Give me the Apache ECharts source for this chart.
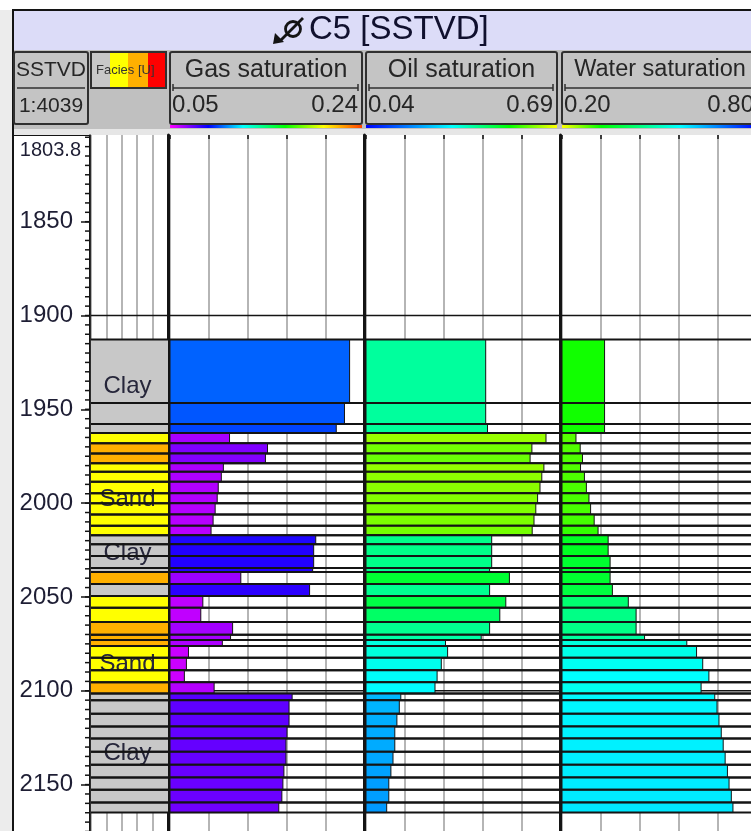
<!DOCTYPE html>
<html>
<head>
<meta charset="utf-8">
<title>C5 [SSTVD]</title>
<script src="https://cdn.jsdelivr.net/npm/echarts@6.0.0/dist/echarts.min.js"></script>
<style>
  html, body { margin: 0; padding: 0; background: #ffffff; }
  #chart { width: 751px; height: 831px; }
</style>
</head>
<body>
<div id="chart"></div>
<script>
// ---- Well C5: facies and fluid saturations against SSTVD (m) ----

// Layer boundaries: layer i runs from layerBounds[i] down to layerBounds[i + 1]
const layerBounds = [1912.8, 1946.6, 1957.8, 1962.6, 1968.1, 1973.5, 1978.8, 1983.3, 1988.6, 1994.7,
  2000.0, 2006.0, 2012.0, 2017.1, 2021.9, 2028.2, 2034.6, 2036.7, 2043.1, 2049.5,
  2055.7, 2063.4, 2070.1, 2073.0, 2076.2, 2082.4, 2089.0, 2095.5, 2101.5, 2105.1,
  2112.3, 2119.0, 2125.4, 2132.5, 2139.4, 2146.2, 2152.8, 2159.6, 2164.9];

// Facies code per layer (0 clay, 1 sand, 2 and 3 other classes)
const faciesCodes = [0, 0, 0, 1, 2, 2, 1, 1, 1, 1, 1, 1, 1, 0, 0, 0, 0, 2, 0, 1,
  1, 2, 2, 2, 1, 1, 1, 2, 0, 0, 0, 0, 0, 0, 0, 0, 0, 0];
const faciesNames = ['Clay', 'Sand'];
const faciesColors = ['#c8c8c8', '#ffff00', '#ffb000', '#ff0000'];

// Saturations per layer
const gasSat = [0.225, 0.220, 0.212, 0.108, 0.145, 0.143, 0.102, 0.100, 0.097, 0.096,
  0.094, 0.092, 0.090, 0.192, 0.190, 0.190, 0.189, 0.119, 0.186, 0.082,
  0.080, 0.111, 0.109, 0.101, 0.068, 0.066, 0.064, 0.093, 0.169, 0.166,
  0.166, 0.164, 0.163, 0.163, 0.161, 0.160, 0.159, 0.156];
const oilSat = [0.439, 0.439, 0.445, 0.640, 0.593, 0.587, 0.633, 0.626, 0.620, 0.612,
  0.606, 0.600, 0.594, 0.459, 0.459, 0.459, 0.452, 0.518, 0.452, 0.506,
  0.486, 0.452, 0.424, 0.305, 0.312, 0.291, 0.277, 0.270, 0.156, 0.151,
  0.143, 0.136, 0.136, 0.130, 0.123, 0.116, 0.116, 0.109];
const waterSat = [0.331, 0.331, 0.331, 0.243, 0.256, 0.263, 0.257, 0.269, 0.275, 0.283,
  0.288, 0.299, 0.311, 0.342, 0.342, 0.348, 0.348, 0.348, 0.355, 0.404,
  0.428, 0.428, 0.454, 0.584, 0.614, 0.633, 0.652, 0.628, 0.670, 0.677,
  0.683, 0.690, 0.696, 0.702, 0.709, 0.714, 0.721, 0.726];

// Depth axis
const depthRange = [1803.8, 2175.8];
const depthLabels = [1803.8, 1850, 1900, 1950, 2000, 2050, 2100, 2150];
const depthMajorTicks = [1850, 1900, 1950, 2000, 2050, 2100, 2150];
const depthMinorTicks = [];
for (let d = 1805; d <= 2175; d += 5) depthMinorTicks.push(d);
const depthGridLines = [1900, 2000, 2100];

// Track scales and header labels
const gasRange = [0.05, 0.24];
const oilRange = [0.04, 0.69];
const waterRange = [0.20, 0.80];
const gasScaleLabels = ['0.05', '0.24'];
const oilScaleLabels = ['0.04', '0.69'];
const waterScaleLabels = ['0.20', '0.80'];

// Colour ramps (value -> fill) for each saturation track
const gasStops = [[0.064, '#cc00ff'], [0.09, '#b800ff'], [0.11, '#a400ff'], [0.145, '#8000ff'],
  [0.165, '#6200ff'], [0.19, '#2200ff'], [0.212, '#0044ff'], [0.225, '#0062ff']];
const oilStops = [[0.109, '#0099ff'], [0.156, '#00b8ff'], [0.27, '#00fcff'], [0.31, '#00ffdd'],
  [0.424, '#00ffa8'], [0.445, '#00ff99'], [0.46, '#00ff88'], [0.49, '#00ff60'],
  [0.52, '#00ff30'], [0.595, '#77ff00'], [0.64, '#99ff00']];
const waterStops = [[0.243, '#55ff00'], [0.30, '#44ff00'], [0.331, '#11ff00'], [0.342, '#00ff22'],
  [0.355, '#00ff40'], [0.404, '#00ff70'], [0.43, '#00ff88'], [0.454, '#00ffa0'],
  [0.584, '#00ffdd'], [0.63, '#00fff0'], [0.652, '#00ffff'], [0.726, '#00e8ff']];

function ramp(stops) {
  return function (v) {
    if (v <= stops[0][0]) return stops[0][1];
    for (let i = 1; i < stops.length; i++) {
      if (v <= stops[i][0]) {
        const t = (v - stops[i - 1][0]) / (stops[i][0] - stops[i - 1][0]);
        return echarts.color.lerp(t, [stops[i - 1][1], stops[i][1]]);
      }
    }
    return stops[stops.length - 1][1];
  };
}

// Runs of one facies thick enough to carry a name
const faciesRuns = [];
(function () {
  let start = 0;
  for (let i = 1; i <= faciesCodes.length; i++) {
    if (i === faciesCodes.length || faciesCodes[i] !== faciesCodes[start]) {
      const top = layerBounds[start], base = layerBounds[i];
      const name = faciesNames[faciesCodes[start]];
      if (name && base - top >= 15) faciesRuns.push({ depth: (top + base) / 2, name: name });
      start = i;
    }
  }
})();

const INK = '#141414';
const FONT = 'Liberation Sans';

const chart = echarts.init(document.getElementById('chart'), null, { renderer: 'canvas' });

// ---- grids: depth, facies, gas, oil, water ----
const plotTop = 135, plotHeight = 698;
const grids = [
  { left: 13, top: plotTop, width: 77, height: plotHeight, show: true, backgroundColor: '#ffffff', borderColor: INK, borderWidth: 2 },
  { left: 91, top: plotTop, width: 77, height: plotHeight },
  { left: 170, top: plotTop, width: 195, height: plotHeight },
  { left: 366, top: plotTop, width: 195, height: plotHeight },
  { left: 562, top: plotTop, width: 195, height: plotHeight }
].map(g => Object.assign({ containLabel: false, outerBoundsMode: 'none' }, g));

function depthAxis(gridIndex, extra) {
  return Object.assign({
    gridIndex: gridIndex, type: 'value', inverse: true,
    min: depthRange[0], max: depthRange[1],
    axisLine: { show: false }, axisTick: { show: false }, axisLabel: { show: false },
    splitLine: { show: false }
  }, extra || {});
}
function hiddenX(gridIndex, range) {
  return { gridIndex: gridIndex, type: 'value', min: range[0], max: range[1], show: false, splitLine: { show: false } };
}
function gridX(gridIndex, topTicks) {
  return {
    gridIndex: gridIndex, type: 'value', min: 0, max: 5, interval: 1, position: 'top',
    axisLine: { show: false },
    axisTick: { show: topTicks, inside: true, length: 4, lineStyle: { color: INK, width: 1.5 } },
    axisLabel: { show: false },
    splitLine: { show: true, lineStyle: { color: '#9c9c9c', width: 1.5 } }
  };
}

const xAxes = [
  hiddenX(0, [0, 1]),        // 0 depth track
  gridX(1, false),           // 1 facies
  hiddenX(2, gasRange),      // 2 gas scale
  gridX(2, true),            // 3 gas grid
  hiddenX(3, oilRange),      // 4 oil scale
  gridX(3, true),            // 5 oil grid
  hiddenX(4, waterRange),    // 6 water scale
  gridX(4, true)             // 7 water grid
];

const trackBorder = { show: true, onZero: false, lineStyle: { color: INK, width: 3 } };
const yAxes = [
  depthAxis(0, {
    position: 'right',
    axisLine: { show: true, onZero: false, lineStyle: { color: INK, width: 1.5 } },
    axisTick: { show: true, inside: true, length: 9, customValues: depthMajorTicks, lineStyle: { color: INK, width: 1.5 } },
    axisLabel: {
      show: true, inside: true, margin: 9, customValues: depthLabels,
      color: '#1e1e34', fontFamily: FONT, fontSize: 24,
      formatter: function (v) {
        return Math.abs(v - depthRange[0]) < 1e-6 ? '{top|' + v.toFixed(1) + '}' : '{n|' + Math.round(v) + '}';
      },
      rich: {
        n: { fontFamily: FONT, fontSize: 24, color: '#1e1e34', padding: [0, 8, 0, 0] },
        top: { fontFamily: FONT, fontSize: 20, color: '#1e1e34', padding: [31, 0, 0, 0] }
      }
    }
  }),
  depthAxis(1, { position: 'left' }),
  depthAxis(2, { position: 'left', offset: 1.5, axisLine: trackBorder }),
  depthAxis(3, { position: 'left', offset: 1.5, axisLine: trackBorder }),
  depthAxis(4, { position: 'left', offset: 1.5, axisLine: trackBorder })
];

// ---- series ----
function hLine(cs, y, w) {
  return { type: 'line', shape: { x1: cs.x, y1: y, x2: cs.x + cs.width, y2: y }, style: { stroke: INK, lineWidth: w } };
}

function gridLineSeries(xIdx, yIdx, xMin) {
  return {
    type: 'custom', xAxisIndex: xIdx, yAxisIndex: yIdx, z: 1, silent: true,
    data: depthGridLines.map(d => [xMin, d]), encode: { x: 0, y: 1 },
    renderItem: function (params, api) {
      const p = api.coord([api.value(0), api.value(1)]);
      return hLine(params.coordSys, p[1], 1.5);
    }
  };
}

function satSeries(name, values, range, stops, xIdx, yIdx) {
  const colorOf = ramp(stops);
  return {
    type: 'custom', name: name, xAxisIndex: xIdx, yAxisIndex: yIdx, z: 3, clip: false,
    data: values.map((v, i) => [v, layerBounds[i], layerBounds[i + 1]]),
    encode: { x: 0, y: [1, 2] },
    renderItem: function (params, api) {
      const v = api.value(0), top = api.value(1), base = api.value(2);
      const a = api.coord([range[0], top]);
      const b = api.coord([v, base]);
      const cs = params.coordSys;
      return {
        type: 'group', children: [
          { type: 'rect', shape: { x: a[0], y: a[1], width: b[0] - a[0], height: b[1] - a[1] },
            style: { fill: colorOf(v), stroke: INK, lineWidth: 1 } },
          hLine(cs, a[1], 2),
          hLine(cs, b[1], 2)
        ]
      };
    }
  };
}

const series = [
  // 5 m depth ticks along the right edge of the depth track
  {
    type: 'custom', name: 'Depth ticks', xAxisIndex: 0, yAxisIndex: 0, z: 4, silent: true,
    data: depthMinorTicks.map(d => [1, d]), encode: { x: 0, y: 1 },
    renderItem: function (params, api) {
      const p = api.coord([api.value(0), api.value(1)]);
      return { type: 'line', shape: { x1: p[0] - 5, y1: p[1], x2: p[0], y2: p[1] }, style: { stroke: INK, lineWidth: 1.5 } };
    }
  },
  // facies fill
  {
    type: 'custom', name: 'Facies', xAxisIndex: 1, yAxisIndex: 1, z: 3,
    data: faciesCodes.map((c, i) => [c, layerBounds[i], layerBounds[i + 1]]),
    encode: { x: 0, y: [1, 2] },
    renderItem: function (params, api) {
      const cs = params.coordSys;
      const y0 = api.coord([0, api.value(1)])[1];
      const y1 = api.coord([0, api.value(2)])[1];
      return { type: 'rect', shape: { x: cs.x, y: y0, width: cs.width, height: y1 - y0 },
        style: { fill: faciesColors[api.value(0)] } };
    }
  },
  // facies names
  {
    type: 'custom', name: 'Facies names', xAxisIndex: 1, yAxisIndex: 1, z: 4, silent: true,
    data: faciesRuns.map(r => [2.5, r.depth]), encode: { x: 0, y: 1 },
    renderItem: function (params, api) {
      const p = api.coord([api.value(0), api.value(1)]);
      return { type: 'text', x: p[0] - 2, y: p[1],
        style: { text: faciesRuns[params.dataIndex].name, fill: '#26263a', fontFamily: FONT, fontSize: 24,
          align: 'center', verticalAlign: 'middle', textAlign: 'center', textVerticalAlign: 'middle' } };
    }
  },
  // facies layer boundaries
  {
    type: 'custom', name: 'Facies bounds', xAxisIndex: 1, yAxisIndex: 1, z: 5, silent: true,
    data: faciesCodes.map((c, i) => [c, layerBounds[i], layerBounds[i + 1]]),
    encode: { x: 0, y: [1, 2] },
    renderItem: function (params, api) {
      const cs = params.coordSys;
      const y0 = api.coord([0, api.value(1)])[1];
      const y1 = api.coord([0, api.value(2)])[1];
      return { type: 'group', children: [hLine(cs, y0, 2), hLine(cs, y1, 2)] };
    }
  },
  gridLineSeries(1, 1, 0),
  gridLineSeries(2, 2, gasRange[0]),
  gridLineSeries(4, 3, oilRange[0]),
  gridLineSeries(6, 4, waterRange[0]),
  satSeries('Gas saturation', gasSat, gasRange, gasStops, 2, 2),
  satSeries('Oil saturation', oilSat, oilRange, oilStops, 4, 3),
  satSeries('Water saturation', waterSat, waterRange, waterStops, 6, 4)
];

// ---- header panel ----
function txt(x, y, text, size, align, color) {
  return { type: 'text', x: x, y: y, silent: true,
    style: { text: text, fill: color || '#262626', font: size + 'px "' + FONT + '"',
      textAlign: align || 'center', textVerticalAlign: 'middle', align: align || 'center', verticalAlign: 'middle' } };
}
function box(x, y, w, h) {
  return { type: 'rect', silent: true, shape: { x: x, y: y, width: w, height: h, r: 2 },
    style: { fill: '#c4c4c4', stroke: '#303030', lineWidth: 2 } };
}
function line(x1, y1, x2, y2, w, c) {
  return { type: 'line', silent: true, shape: { x1: x1, y1: y1, x2: x2, y2: y2 }, style: { stroke: c || '#303030', lineWidth: w } };
}
function grad(stops) {
  return { type: 'linear', x: 0, y: 0, x2: 1, y2: 0, colorStops: stops.map(s => ({ offset: s[0], color: s[1] })) };
}
function satHeader(x, w, title, titleSize, labels, barStops) {
  return [
    box(x, 52, w, 72),
    txt(x + w / 2, 70, title, titleSize),
    line(x + 3, 88, x + w - 4, 88, 1.5),
    line(x + 3, 84, x + 3, 91, 1.5),
    line(x + w - 4, 84, x + w - 4, 91, 1.5),
    txt(x + 2, 105, labels[0], 24, 'left'),
    txt(x + w - 4, 105, labels[1], 24, 'right'),
    { type: 'rect', silent: true, shape: { x: x, y: 125, width: w, height: 3 }, style: { fill: grad(barStops) } }
  ];
}

const graphic = [
  { type: 'rect', silent: true, shape: { x: 0, y: 10, width: 12, height: 821 }, style: { fill: '#ececec' } },
  { type: 'rect', silent: true, shape: { x: 13, y: 10, width: 745, height: 40 }, style: { fill: '#dcdcf8' } },
  { type: 'rect', silent: true, shape: { x: 13, y: 50, width: 745, height: 79 }, style: { fill: '#c0c0c0' } },
  { type: 'rect', silent: true, shape: { x: 13, y: 129, width: 745, height: 6 }, style: { fill: '#e6e6e6' } },
  { type: 'rect', silent: true, shape: { x: 12, y: 9, width: 745, height: 2 }, style: { fill: INK } },
  { type: 'rect', silent: true, shape: { x: 12, y: 9, width: 2, height: 822 }, style: { fill: INK } },
  // well symbol
  { type: 'circle', silent: true, shape: { cx: 293, cy: 29, r: 7.5 }, style: { fill: 'none', stroke: INK, lineWidth: 2.8 } },
  line(303, 18, 281, 40, 2.8, INK),
  { type: 'polygon', silent: true, shape: { points: [[273, 44], [275, 33], [284, 42]] }, style: { fill: INK } },
  txt(309, 30, 'C5 [SSTVD]', 33, 'left', '#10102e'),
  // depth header
  box(14, 52, 74, 72),
  line(17, 88, 85, 88, 1.5),
  txt(51, 70, 'SSTVD', 21),
  txt(51, 106, '1:4039', 21),
  // facies header with colour key
  { type: 'rect', silent: true, shape: { x: 92, y: 53, width: 18, height: 34 }, style: { fill: faciesColors[0] } },
  { type: 'rect', silent: true, shape: { x: 110, y: 53, width: 18, height: 34 }, style: { fill: faciesColors[1] } },
  { type: 'rect', silent: true, shape: { x: 128, y: 53, width: 20, height: 34 }, style: { fill: faciesColors[2] } },
  { type: 'rect', silent: true, shape: { x: 148, y: 53, width: 17, height: 34 }, style: { fill: faciesColors[3] } },
  { type: 'rect', silent: true, shape: { x: 91, y: 52, width: 75, height: 36 }, style: { fill: 'none', stroke: '#303030', lineWidth: 2 } },
  txt(96, 70, 'Facies [U]', 13, 'left', '#333333')
].concat(
  satHeader(170, 192, 'Gas saturation', 25, gasScaleLabels,
    [[0, '#ff00ff'], [0.2, '#0000ff'], [0.38, '#00ffff'], [0.6, '#00ff00'], [0.8, '#ffff00'], [1, '#ff4000']]),
  satHeader(366, 191, 'Oil saturation', 25, oilScaleLabels,
    [[0, '#0000ff'], [0.45, '#00ffff'], [0.75, '#00ff00'], [1, '#ffff00']]),
  satHeader(562, 196, 'Water saturation', 23.5, waterScaleLabels,
    [[0, '#ffff00'], [0.2, '#00ff00'], [0.6, '#00ffff'], [1, '#0000ff']])
);

chart.setOption({
  animation: false,
  backgroundColor: '#ffffff',
  textStyle: { fontFamily: FONT },
  grid: grids,
  xAxis: xAxes,
  yAxis: yAxes,
  series: series,
  graphic: graphic
});
</script>
</body>
</html>
